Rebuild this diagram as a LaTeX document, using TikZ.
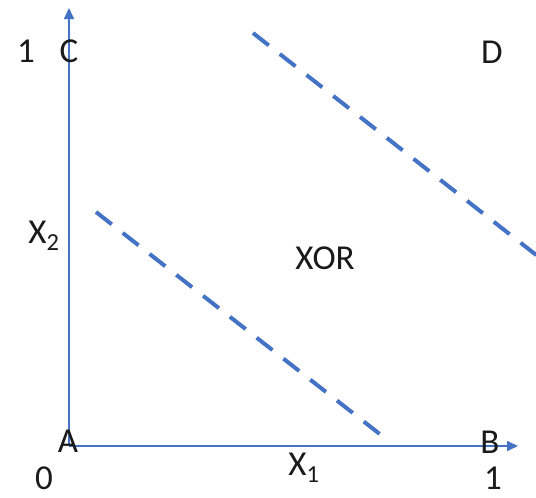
\documentclass[tikz,border=0pt]{standalone}
\usepackage{fontspec}
\setmainfont{Carlito}
\usetikzlibrary{arrows.meta}
\definecolor{officeblue}{HTML}{4472C4}
\definecolor{txt}{HTML}{1A1A1A}
\tikzset{
  axisline/.style={draw=officeblue, line width=1.6pt, -{Triangle[length=11pt,width=10pt]}},
  sepline/.style={draw=officeblue, line width=4pt, dash pattern=on 20pt off 14pt},
  lbl/.style={inner sep=0pt, text=txt, font=\fontsize{35}{40}\selectfont}
}
\begin{document}
\begin{tikzpicture}[x=1pt,y=-1pt]
\useasboundingbox (0,0) rectangle (536,498);
\coordinate (o) at (69,446);
\coordinate (xe) at (518,446);
\coordinate (ye) at (69,8);
\draw[axisline] (o) -- (xe);
\draw[axisline] (o) -- (ye);
\coordinate (l1a) at (96,212);
\coordinate (l1b) at (381,435);
\coordinate (l2a) at (253,33);
\coordinate (l2b) at (540,258);
\draw[sepline] (l1a) -- (l1b);
\draw[sepline] (l2a) -- (l2b);
\node[lbl] (one2) at (26,51) {1};
\node[lbl] (C) at (69,51) {C};
\node[lbl] (D) at (492,52) {D};
\node[lbl] (x2) at (44,236) {X\textsubscript{2}};
\node[lbl] (xor) at (325,258) {XOR};
\node[lbl] (A) at (68,441) {A};
\node[lbl] (B) at (490,442) {B};
\node[lbl] (zero) at (44,478) {0};
\node[lbl] (x1) at (304,468) {X\textsubscript{1}};
\node[lbl] (one1) at (493,478) {1};
\end{tikzpicture}
\end{document}
